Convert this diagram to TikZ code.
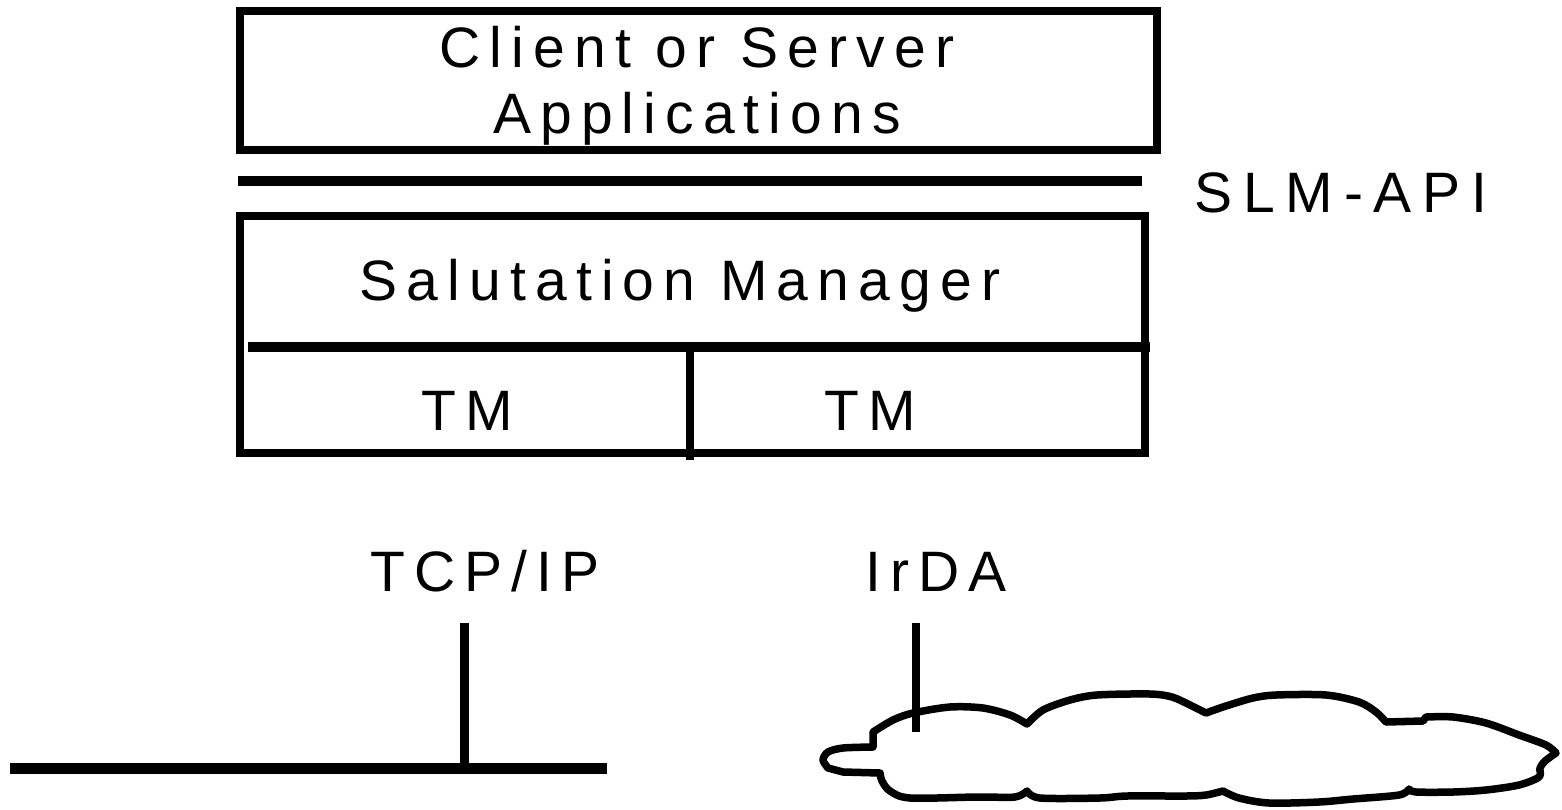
\documentclass[tikz,border=0pt]{standalone}
\usepackage{fontspec}
\setmainfont{Liberation Sans}
\newfontfamily\lblfont[LetterSpace=16]{Liberation Sans}
\newfontfamily\widefont[LetterSpace=19]{Liberation Sans}

\tikzset{
  layer/.style={draw, line width=8pt, rectangle, inner sep=0pt, outer sep=0pt},
  rule/.style={line width=#1},
  lbl/.style={anchor=base, inner sep=0pt, font=\lblfont\fontsize{57}{66}\selectfont},
  widelbl/.style={lbl, font=\widefont\fontsize{57}{66}\selectfont},
  cloudline/.style={line width=7.5pt, line join=round, line cap=round}
}

\begin{document}
\begin{tikzpicture}[x=1pt, y=-1pt]
  \useasboundingbox (0,0) rectangle (1562,809);

  % application layer
  \node[layer, minimum width=917pt, minimum height=139pt] (apps) at (698.5,80.5) {};
  \node[lbl] (appstxt1) at (697,67) {Client or Server};
  \node[lbl] (appstxt2) at (697,133) {Applications};

  % API rule and its label
  \coordinate (apiL) at (238,181);
  \coordinate (apiR) at (1142,181);
  \draw[rule=10pt] (apiL) -- (apiR);
  \node[widelbl] (api) at (1341,212) {SLM-API};

  % salutation manager with its two transport managers
  \node[layer, minimum width=905pt, minimum height=237pt] (slm) at (692.5,334.5) {};
  \node[lbl] (slmtxt) at (680,300) {Salutation Manager};
  \coordinate (midL) at (248,347);
  \coordinate (midR) at (1150,347);
  \draw[rule=10pt] (midL) -- (midR);
  \coordinate (divT) at (690,350);
  \coordinate (divB) at (690,460);
  \draw[rule=8pt] (divT) -- (divB);
  \node[lbl] (tm1) at (467,430) {TM};
  \node[lbl] (tm2) at (870,430) {TM};

  % TCP/IP bus
  \node[lbl] (tcp) at (485,591) {TCP/IP};
  \coordinate (tcpT) at (464,623);
  \coordinate (tcpB) at (464,768);
  \coordinate (busL) at (10,768);
  \coordinate (busR) at (607,768);
  \draw[rule=9pt] (tcpT) -- (tcpB);
  \draw[rule=11pt] (busL) -- (busR);

  % IrDA link into the cloud
  \node[lbl] (irda) at (936,591) {IrDA};
  \coordinate (irT) at (916,623);
  \coordinate (irB) at (916,732);
  \draw[rule=8pt] (irT) -- (irB);

  % the cloud
  \draw[cloudline]
    plot[smooth] coordinates {(828,768) (823,760) (828,752) (843,748) (873,747)}
    -- (873,732)
    -- plot[smooth] coordinates {(873,732) (893,720) (913,713) (950,707) (983,708) (1010,715) (1027,724)}
    -- plot[smooth] coordinates {(1027,724) (1043,710) (1070,700) (1097,695) (1150,694) (1172,697) (1190,705) (1206,713)}
    -- plot[smooth] coordinates {(1206,713) (1226,706) (1253,698) (1276,695) (1326,695) (1359,702) (1376,712) (1386,722)}
    -- (1423,721) -- (1426,717)
    -- plot[smooth] coordinates {(1426,717) (1453,717) (1486,723) (1519,735) (1546,745) (1556,753)}
    -- plot[smooth] coordinates {(1556,753) (1545,761) (1540,768) (1539,777) (1519,785) (1486,790) (1453,792) (1416,792) (1409,789)}
    -- plot[smooth] coordinates {(1409,789) (1399,795) (1353,799) (1319,802) (1269,803) (1239,798) (1223,791)}
    -- plot[smooth] coordinates {(1223,791) (1206,795) (1186,796) (1127,796) (1100,798) (1040,798) (1027,791)}
    -- plot[smooth] coordinates {(1027,791) (1015,797) (977,797) (910,798) (890,791) (882,781) (880,773)}
    -- (843,772) -- (828,768) -- cycle;
\end{tikzpicture}
\end{document}
